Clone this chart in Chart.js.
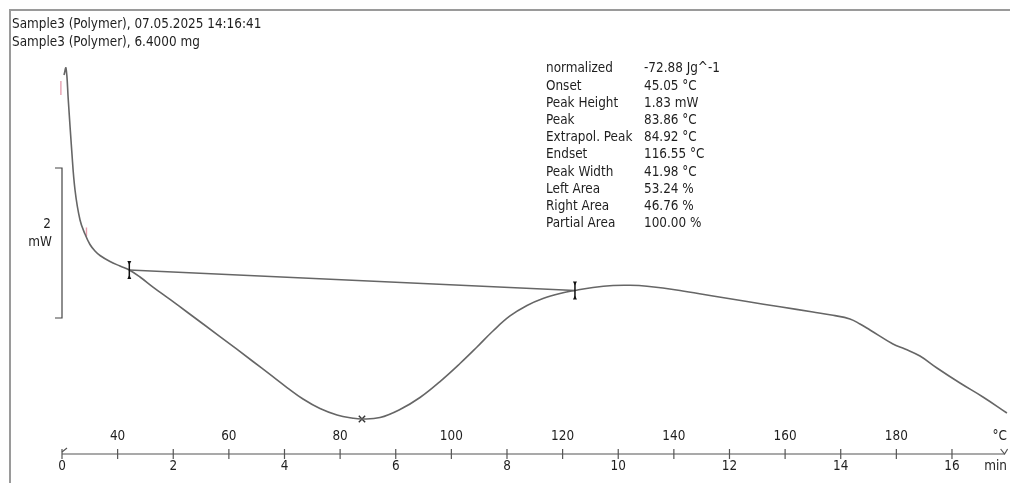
<!DOCTYPE html>
<html>
<head>
<meta charset="utf-8">
<script src="https://cdn.jsdelivr.net/npm/chart.js@4/dist/chart.umd.min.js"></script>
<style>
  html, body { margin: 0; padding: 0; background: #fff; }
  canvas { display: block; }
</style>
</head>
<body>
<canvas id="dsc" width="1010" height="483"></canvas>
<script>
// DSC curve: time (min) vs heat flow (mW, relative)
const times = [0.036, 0.072, 0.113, 0.174, 0.234, 0.324, 0.413, 0.503, 0.593, 0.683, 0.863,
  1.043, 1.21, 1.402, 1.636, 1.942, 2.247, 2.84, 3.434, 3.739, 4.045, 4.333, 4.638, 4.944,
  5.231, 5.393, 5.717, 6.076, 6.436, 6.796, 7.155, 7.461, 7.748, 8.054, 8.36, 8.647, 8.953,
  9.222, 9.546, 9.906, 10.211, 10.517, 11.11, 11.703, 12.315, 12.908, 13.501, 13.861,
  14.166, 14.346, 14.526, 14.939, 15.155, 15.425, 15.73, 16.144, 16.557, 16.988];
const heatFlow = [2.6, 2.693, 2.267, 1.6, 1.067, 0.667, 0.48, 0.34, 0.253, 0.193, 0.113,
  0.053, 0, -0.093, -0.227, -0.393, -0.56, -0.887, -1.22, -1.393, -1.567, -1.72, -1.847, -1.933,
  -1.976, -1.987, -1.967, -1.86, -1.7, -1.487, -1.247, -1.027, -0.813, -0.613, -0.473, -0.38, -0.313,
  -0.273, -0.233, -0.207, -0.204, -0.217, -0.273, -0.347, -0.42, -0.491, -0.56, -0.604,
  -0.653, -0.72, -0.8, -0.987, -1.053, -1.147, -1.307, -1.507, -1.693, -1.907];

// integration limits and peak
const limitTimes = [1.21, 9.222];
const limitFlow = [0, -0.273];
const peakTimes = [5.393];
const peakFlow = [-1.987];

// pink curve markers
const pinkTimes = [-0.02, 0.44];
const pinkFlow = [2.427, 0.507];

// axis
const timeTicks = [0, 2, 4, 6, 8, 10, 12, 14, 16];
const tempTicks = [40, 60, 80, 100, 120, 140, 160, 180];
const startTemp = 30;   // °C at 0 min
const heatRate = 10;    // K/min

const scaleBar = [-0.64, 1.36]; // 2 mW

const headerLines = [
  "Sample3 (Polymer), 07.05.2025 14:16:41",
  "Sample3 (Polymer), 6.4000 mg"
];
const infoLabels = ["normalized", "Onset", "Peak Height", "Peak", "Extrapol. Peak",
  "Endset", "Peak Width", "Left Area", "Right Area", "Partial Area"];
const infoValues = ["-72.88 Jg^-1", "45.05 \u00b0C", "1.83 mW", "83.86 \u00b0C", "84.92 \u00b0C",
  "116.55 \u00b0C", "41.98 \u00b0C", "53.24 %", "46.76 %", "100.00 %"];

const FONT = '13.4px "DejaVu Sans Condensed", "DejaVu Sans", sans-serif';
const INK = "#1e1e1e";
const LINE = "#666";

const pts = (xs, ys) => xs.map((x, i) => ({ x: x, y: ys[i] }));

const decorations = {
  id: "decorations",
  afterDraw(chart) {
    const ctx = chart.ctx;
    const xs = chart.scales.x;
    const ys = chart.scales.y;
    ctx.save();

    // frame
    ctx.strokeStyle = "#9a9a9a";
    ctx.lineWidth = 2;
    ctx.beginPath();
    ctx.moveTo(10, 483);
    ctx.lineTo(10, 10);
    ctx.lineTo(1010, 10);
    ctx.stroke();

    // header text
    ctx.fillStyle = INK;
    ctx.font = FONT;
    ctx.textBaseline = "middle";
    ctx.textAlign = "left";
    headerLines.forEach((t, i) => ctx.fillText(t, 12, 25 + i * 18));

    // result block
    infoLabels.forEach((t, i) => {
      ctx.fillText(t, 546, 69 + i * 17.2);
      ctx.fillText(infoValues[i], 644, 69 + i * 17.2);
    });

    // scale bar
    const sx = xs.getPixelForValue(0);
    const yTop = ys.getPixelForValue(scaleBar[1]);
    const yBot = ys.getPixelForValue(scaleBar[0]);
    ctx.strokeStyle = "#444";
    ctx.lineWidth = 1.2;
    ctx.beginPath();
    ctx.moveTo(sx - 7, yTop);
    ctx.lineTo(sx, yTop);
    ctx.lineTo(sx, yBot);
    ctx.lineTo(sx - 7, yBot);
    ctx.stroke();
    ctx.textAlign = "right";
    const mid = (yTop + yBot) / 2;
    ctx.fillText(String(scaleBar[1] - scaleBar[0]), sx - 11, mid - 18);
    ctx.fillText("mW", sx - 10, mid);

    // integration limit markers
    ctx.fillStyle = "#111";
    ctx.strokeStyle = "#111";
    ctx.lineWidth = 1.5;
    limitTimes.forEach((t, i) => {
      const px = xs.getPixelForValue(t);
      const py = ys.getPixelForValue(limitFlow[i]);
      ctx.beginPath();
      ctx.moveTo(px, py - 8);
      ctx.lineTo(px, py + 8);
      ctx.stroke();
      [-1, 1].forEach(d => {
        ctx.beginPath();
        ctx.moveTo(px - 2, py + d * 9);
        ctx.lineTo(px + 2, py + d * 9);
        ctx.lineTo(px, py + d * 5);
        ctx.closePath();
        ctx.fill();
      });
    });

    // double axis: temperature above, time below
    const ay = 454;
    const x0 = xs.getPixelForValue(0);
    const x1 = xs.right - 3;
    ctx.strokeStyle = "#555";
    ctx.lineWidth = 1.2;
    ctx.beginPath();
    ctx.moveTo(x0, ay);
    ctx.lineTo(x1, ay);
    ctx.stroke();
    ctx.fillStyle = INK;
    ctx.textAlign = "center";
    const tick = px => {
      ctx.beginPath();
      ctx.moveTo(px, ay - 5);
      ctx.lineTo(px, ay + 5);
      ctx.stroke();
    };
    timeTicks.forEach(t => {
      const px = xs.getPixelForValue(t);
      tick(px);
      ctx.fillText(String(t), px, ay + 13);
    });
    tempTicks.forEach(T => {
      const px = xs.getPixelForValue((T - startTemp) / heatRate);
      tick(px);
      ctx.fillText(String(T), px, ay - 17);
    });
    // end marks
    ctx.beginPath();
    ctx.moveTo(x0, ay - 2);
    ctx.lineTo(x0 + 5, ay - 6);
    ctx.moveTo(x1 - 4, ay - 5);
    ctx.lineTo(x1, ay);
    ctx.lineTo(x1 + 3, ay - 5);
    ctx.stroke();
    ctx.textAlign = "right";
    ctx.fillText("\u00b0C", 1007, ay - 17);
    ctx.fillText("min", 1007, ay + 13);

    ctx.restore();
  }
};

new Chart(document.getElementById("dsc"), {
  type: "line",
  data: {
    datasets: [
      {
        label: "DSC",
        data: pts(times, heatFlow),
        borderColor: LINE,
        borderWidth: 1.6,
        pointRadius: 0,
        tension: 0.4,
        clip: false
      },
      {
        label: "Baseline",
        data: pts(limitTimes, limitFlow),
        borderColor: LINE,
        borderWidth: 1.6,
        pointRadius: 0
      },
      {
        label: "Peak",
        data: pts(peakTimes, peakFlow),
        showLine: false,
        pointStyle: "crossRot",
        pointRadius: 4.5,
        pointBorderWidth: 1.4,
        borderColor: "#333"
      },
      {
        label: "Marks",
        data: pts(pinkTimes, pinkFlow),
        showLine: false,
        pointStyle: "line",
        rotation: 90,
        pointRadius: [7, 4.5],
        pointBorderWidth: 1.4,
        borderColor: "#e8a0b0",
        clip: false
      }
    ]
  },
  options: {
    responsive: false,
    devicePixelRatio: 1,
    animation: false,
    layout: { autoPadding: false, padding: { left: 62, right: 2.4, top: 0, bottom: 29 } },
    plugins: { legend: { display: false }, tooltip: { enabled: false } },
    scales: {
      x: { type: "linear", min: 0, max: 17, display: false },
      y: { type: "linear", min: -2.4533, max: 3.6, display: false }
    }
  },
  plugins: [decorations]
});
</script>
</body>
</html>
